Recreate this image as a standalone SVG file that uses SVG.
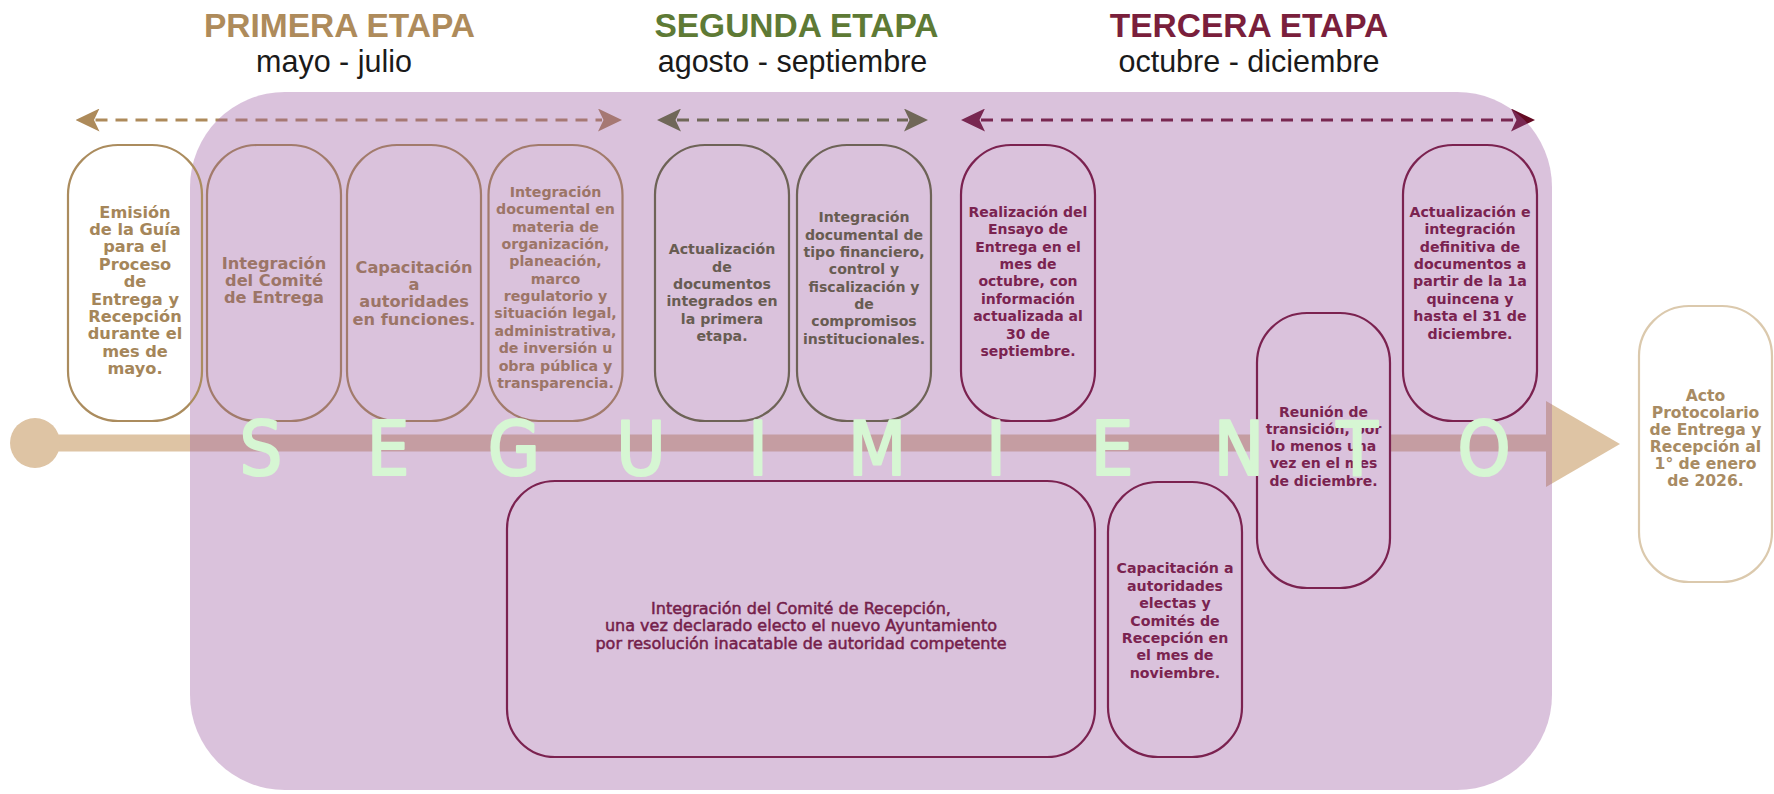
<svg xmlns="http://www.w3.org/2000/svg" width="1774" height="794" viewBox="0 0 1774 794">
<defs>
<style>
.title{font-family:"Liberation Sans",Arial,sans-serif;font-weight:bold;font-size:33.5px;text-anchor:middle}
.sub{font-family:"Liberation Sans",Arial,sans-serif;font-size:30.5px;text-anchor:middle;fill:#1a1a1a}
.box{stroke-width:2.2}
.lbl{font-family:"DejaVu Sans","Liberation Sans",sans-serif;font-weight:bold;text-anchor:middle}
.reg{font-family:"DejaVu Sans","Liberation Sans",sans-serif;font-weight:normal;text-anchor:middle;stroke:#74204a;stroke-width:0.5}
.dash{fill:none;stroke-width:3;stroke-dasharray:12 8}
.seg{font-family:"Liberation Sans Narrow","DejaVu Sans Condensed","Liberation Sans",sans-serif;font-size:75px;fill:#d6f6d3;stroke:#d6f6d3;stroke-width:2.2;stroke-linejoin:round;text-anchor:middle}
.gold{stroke:#ab8c5e;fill:none}
.rose{stroke:#a27b6c;fill:none}
.olive{stroke:#6e6357;fill:none}
.maroon{stroke:#7b2250;fill:none}
</style>
<marker id="hGold" markerUnits="userSpaceOnUse" markerWidth="24" markerHeight="23" viewBox="0 0 24 23" refX="4" refY="11.5" orient="auto-start-reverse"><path d="M0,0 L24,11.5 L0,23 L5.5,11.5Z" fill="#ad8a5a"/></marker>
<marker id="hGreen" markerUnits="userSpaceOnUse" markerWidth="24" markerHeight="23" viewBox="0 0 24 23" refX="4" refY="11.5" orient="auto-start-reverse"><path d="M0,0 L24,11.5 L0,23 L5.5,11.5Z" fill="#57702f"/></marker>
<marker id="hMaroon" markerUnits="userSpaceOnUse" markerWidth="24" markerHeight="23" viewBox="0 0 24 23" refX="4" refY="11.5" orient="auto-start-reverse"><path d="M0,0 L24,11.5 L0,23 L5.5,11.5Z" fill="#640a23"/></marker>
</defs>
<rect width="1774" height="794" fill="#ffffff"/>

<g id="headers">
<text class="title" x="339.5" y="37" fill="#ae8b5b">PRIMERA ETAPA</text>
<text class="sub" x="334" y="72">mayo - julio</text>
<text class="title" x="796.5" y="37" fill="#5e7a35">SEGUNDA ETAPA</text>
<text class="sub" x="792.5" y="72">agosto - septiembre</text>
<text class="title" x="1249" y="37" fill="#7a1f3c">TERCERA ETAPA</text>
<text class="sub" x="1249" y="72">octubre - diciembre</text>
</g>

<g id="timeline">
<rect x="35" y="434.5" width="1515" height="17" fill="#dec4a4"/>
<circle cx="35" cy="443" r="25" fill="#dec4a4"/>
<polygon points="1546,401 1620,444 1546,487" fill="#dec4a4"/>
</g>

<g id="connectors">
<line class="dash" x1="95.5" y1="120" x2="602" y2="120" stroke="#ad8a5a" marker-start="url(#hGold)" marker-end="url(#hGold)"/>
<line class="dash" x1="677" y1="120" x2="908" y2="120" stroke="#57702f" marker-start="url(#hGreen)" marker-end="url(#hGreen)"/>
<line class="dash" x1="981" y1="120" x2="1515" y2="120" stroke="#640a23" marker-start="url(#hMaroon)" marker-end="url(#hMaroon)"/>
</g>

<rect id="seguimiento-area" x="190" y="92" width="1362" height="698" rx="95" fill="#9b5aa0" fill-opacity="0.37"/>

<g id="n-emision">
<rect class="box gold" x="68" y="145" width="134" height="276" rx="50"/>
<text class="lbl" font-size="16.2" fill="#a5865a"><tspan x="135" y="217.5">Emisión</tspan><tspan x="135" y="234.9">de la Guía</tspan><tspan x="135" y="252.3">para el</tspan><tspan x="135" y="269.7">Proceso</tspan><tspan x="135" y="287.1">de</tspan><tspan x="135" y="304.5">Entrega y</tspan><tspan x="135" y="321.9">Recepción</tspan><tspan x="135" y="339.3">durante el</tspan><tspan x="135" y="356.7">mes de</tspan><tspan x="135" y="374.1">mayo.</tspan></text>
</g>

<g id="n-comite-entrega">
<rect class="box rose" x="207" y="145" width="134" height="276" rx="50"/>
<text class="lbl" font-size="16.2" fill="#9c7567"><tspan x="274" y="268.5">Integración</tspan><tspan x="274" y="285.9">del Comité</tspan><tspan x="274" y="303.3">de Entrega</tspan></text>
</g>

<g id="n-capacitacion-funciones">
<rect class="box rose" x="347" y="145" width="134" height="276" rx="50"/>
<text class="lbl" font-size="16.2" fill="#9c7567"><tspan x="414" y="272.5">Capacitación</tspan><tspan x="414" y="289.9">a</tspan><tspan x="414" y="307.3">autoridades</tspan><tspan x="414" y="324.7">en funciones.</tspan></text>
</g>

<g id="n-integracion-documental">
<rect class="box rose" x="488.5" y="145" width="134" height="276" rx="50"/>
<text class="lbl" font-size="14.2" fill="#9c7567"><tspan x="555.5" y="196.8">Integración</tspan><tspan x="555.5" y="214.2">documental en</tspan><tspan x="555.5" y="231.5">materia de</tspan><tspan x="555.5" y="248.9">organización,</tspan><tspan x="555.5" y="266.3">planeación,</tspan><tspan x="555.5" y="283.6">marco</tspan><tspan x="555.5" y="301">regulatorio y</tspan><tspan x="555.5" y="318.4">situación legal,</tspan><tspan x="555.5" y="335.8">administrativa,</tspan><tspan x="555.5" y="353.1">de inversión u</tspan><tspan x="555.5" y="370.5">obra pública y</tspan><tspan x="555.5" y="387.9">transparencia.</tspan></text>
</g>

<g id="n-actualizacion">
<rect class="box olive" x="655" y="145" width="134" height="276" rx="50"/>
<text class="lbl" font-size="14.2" fill="#685c52"><tspan x="722" y="254.2">Actualización</tspan><tspan x="722" y="271.6">de</tspan><tspan x="722" y="289">documentos</tspan><tspan x="722" y="306.4">integrados en</tspan><tspan x="722" y="323.8">la primera</tspan><tspan x="722" y="341.2">etapa.</tspan></text>
</g>

<g id="n-financiero">
<rect class="box olive" x="797" y="145" width="134" height="276" rx="50"/>
<text class="lbl" font-size="14.1" fill="#685c52"><tspan x="864" y="222.3">Integración</tspan><tspan x="864" y="239.7">documental de</tspan><tspan x="864" y="257">tipo financiero,</tspan><tspan x="864" y="274.4">control y</tspan><tspan x="864" y="291.7">fiscalización y</tspan><tspan x="864" y="309.1">de</tspan><tspan x="864" y="326.4">compromisos</tspan><tspan x="864" y="343.8">institucionales.</tspan></text>
</g>

<g id="n-ensayo">
<rect class="box maroon" x="961" y="145" width="134" height="276" rx="50"/>
<text class="lbl" font-size="14" fill="#7a2350"><tspan x="1028" y="216.7">Realización del</tspan><tspan x="1028" y="234.1">Ensayo de</tspan><tspan x="1028" y="251.5">Entrega en el</tspan><tspan x="1028" y="268.9">mes de</tspan><tspan x="1028" y="286.3">octubre, con</tspan><tspan x="1028" y="303.7">información</tspan><tspan x="1028" y="321.1">actualizada al</tspan><tspan x="1028" y="338.5">30 de</tspan><tspan x="1028" y="355.9">septiembre.</tspan></text>
</g>

<g id="n-definitiva">
<rect class="box maroon" x="1403" y="145" width="134" height="276" rx="50"/>
<text class="lbl" font-size="14.2" fill="#7a2350"><tspan x="1470" y="216.7">Actualización e</tspan><tspan x="1470" y="234.1">integración</tspan><tspan x="1470" y="251.5">definitiva de</tspan><tspan x="1470" y="268.9">documentos a</tspan><tspan x="1470" y="286.3">partir de la 1a</tspan><tspan x="1470" y="303.7">quincena y</tspan><tspan x="1470" y="321.1">hasta el 31 de</tspan><tspan x="1470" y="338.5">diciembre.</tspan></text>
</g>

<g id="n-reunion">
<rect class="box maroon" x="1257" y="313" width="133" height="275" rx="50" style="fill:#dac2dc"/>
<text class="lbl" font-size="14" fill="#7a2350"><tspan x="1323.5" y="416.5">Reunión de</tspan><tspan x="1323.5" y="433.8">transición, por</tspan><tspan x="1323.5" y="451.1">lo menos una</tspan><tspan x="1323.5" y="468.4">vez en el mes</tspan><tspan x="1323.5" y="485.7">de diciembre.</tspan></text>
</g>

<g id="n-comite-recepcion">
<rect class="box maroon" x="507" y="481" width="588" height="276" rx="48"/>
<text class="reg" font-size="16" fill="#74204a"><tspan x="801" y="614">Integración del Comité de Recepción,</tspan><tspan x="801" y="631.3">una vez declarado electo el nuevo Ayuntamiento</tspan><tspan x="801" y="648.6">por resolución inacatable de autoridad competente</tspan></text>
</g>

<g id="n-capacitacion-electas">
<rect class="box maroon" x="1108" y="482" width="134" height="275" rx="50"/>
<text class="lbl" font-size="14.2" fill="#7a2350"><tspan x="1175" y="573.3">Capacitación a</tspan><tspan x="1175" y="590.7">autoridades</tspan><tspan x="1175" y="608.1">electas y</tspan><tspan x="1175" y="625.5">Comités de</tspan><tspan x="1175" y="642.9">Recepción en</tspan><tspan x="1175" y="660.3">el mes de</tspan><tspan x="1175" y="677.7">noviembre.</tspan></text>
</g>

<g id="n-acto">
<rect class="box" x="1639" y="306" width="133" height="276" rx="50" fill="#ffffff" stroke="#dbc9ad"/>
<text class="lbl" font-size="15.6" fill="#a88b63"><tspan x="1705.5" y="400.5">Acto</tspan><tspan x="1705.5" y="417.5">Protocolario</tspan><tspan x="1705.5" y="434.5">de Entrega y</tspan><tspan x="1705.5" y="451.5">Recepción al</tspan><tspan x="1705.5" y="468.5">1° de enero</tspan><tspan x="1705.5" y="485.5">de 2026.</tspan></text>
</g>

<text id="seguimiento" class="seg" x="261 388 514 641 758 877 996 1112 1239 1357 1484" y="475">SEGUIMIENTO</text>
</svg>
